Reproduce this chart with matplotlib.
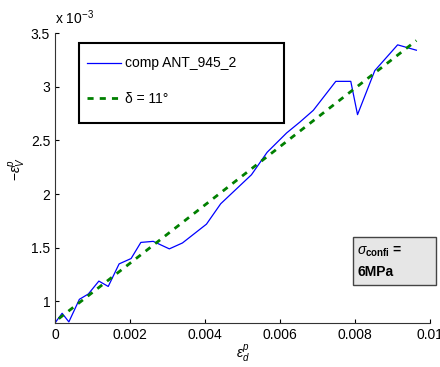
import numpy as np
from matplotlib import pyplot as plt
from matplotlib.ticker import FixedLocator
from matplotlib.patches import Rectangle

plt.rcParams['font.family'] = ['Liberation Sans', 'DejaVu Sans']
plt.rcParams['mathtext.fontset'] = 'custom'
plt.rcParams['mathtext.rm'] = 'Liberation Sans'
plt.rcParams['mathtext.it'] = 'Liberation Sans:italic'
plt.rcParams['mathtext.bf'] = 'Liberation Sans:bold'

# plastic deviatoric strain vs. minus plastic volumetric strain (x 1e-3)
eps_d = [0.0, 0.00019, 0.00037, 0.00065, 0.00089, 0.00117, 0.00142, 0.00171,
         0.00203, 0.00229, 0.00262, 0.00305, 0.0034, 0.00404, 0.00442,
         0.00524, 0.00566, 0.00618, 0.00653, 0.00689, 0.00749, 0.00789,
         0.00807, 0.00853, 0.00914, 0.00964]
eps_v = [0.80, 0.89, 0.81, 1.02, 1.07, 1.19, 1.14, 1.35,
         1.40, 1.55, 1.56, 1.49, 1.545, 1.72, 1.91,
         2.18, 2.39, 2.57, 2.67, 2.78, 3.05, 3.05,
         2.74, 3.15, 3.39, 3.34]

fit_d = [0.0001, 0.00964]
fit_v = [0.84, 3.43]

x_ticks = [0, 0.002, 0.004, 0.006, 0.008, 0.01]
x_labels = ['0', '0.002', '0.004', '0.006', '0.008', '0.01']
y_ticks = [1, 1.5, 2, 2.5, 3, 3.5]
y_labels = ['1', '1.5', '2', '2.5', '3', '3.5']

fig = plt.figure(figsize=(4.4, 3.67), dpi=100)
ax = fig.add_axes([0.125, 0.12, 0.852, 0.79])

ax.plot(eps_d, eps_v, color='#0000ff', lw=0.9, label='comp ANT_945_2')
ax.plot(fit_d, fit_v, color='#008000', lw=2, ls=(0, (2.2, 2.2)),
        label='δ = 11°')

ax.set_xlim(0, 0.01)
ax.set_ylim(0.8, 3.5)
ax.xaxis.set_major_locator(FixedLocator(x_ticks))
ax.set_xticklabels(x_labels)
ax.yaxis.set_major_locator(FixedLocator(y_ticks))
ax.set_yticklabels(y_labels)
ax.tick_params(direction='in', length=3, labelsize=10, width=0.8)
ax.spines['top'].set_visible(False)
ax.spines['right'].set_visible(False)
for s in ['left', 'bottom']:
    ax.spines[s].set_linewidth(0.8)
    ax.spines[s].set_color('#333333')

ax.set_xlabel(r'$\varepsilon_d^p$', fontsize=10, labelpad=0)
ax.set_ylabel(r'$-\varepsilon_V^p$', fontsize=10)
ax.yaxis.set_label_coords(-0.072, 0.53)
fig.text(0.125, 0.935, r'x 10$^{-3}$', fontsize=10, ha='left', va='baseline')

# legend: frame drawn separately to get the wide MATLAB-like box
ax.add_patch(Rectangle((0.064, 0.69), 0.547, 0.276, transform=ax.transAxes,
                       fill=True, fc='white', ec='black', lw=1.5, zorder=4))
leg = ax.legend(loc='upper left', bbox_to_anchor=(0.064, 0.948), fontsize=10,
                frameon=False, borderpad=0.6, labelspacing=1.55,
                handlelength=2.4, handletextpad=0.3, borderaxespad=0)
leg.set_zorder(5)

ax.add_patch(Rectangle((0.795, 0.131), 0.221, 0.166, transform=ax.transAxes,
                       fc='#e6e6e6', ec='#444444', lw=1, clip_on=False, zorder=4))
ax.text(0.806, 0.245, r'$\sigma_{\mathbf{confi}}$ =', transform=ax.transAxes,
        fontsize=10, fontweight='bold', ha='left', va='center', zorder=5)
ax.text(0.806, 0.175, '6MPa', transform=ax.transAxes,
        fontsize=10, fontweight='bold', ha='left', va='center', zorder=5)

fig.savefig('out.png', dpi=100)
